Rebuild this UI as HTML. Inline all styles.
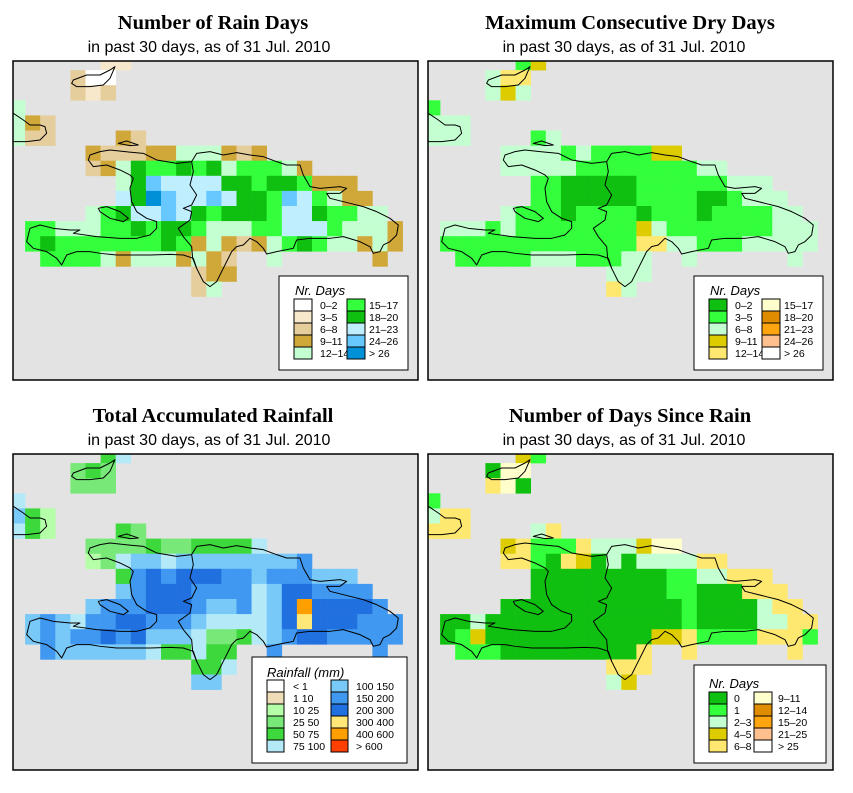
<!DOCTYPE html>
<html><head><meta charset="utf-8"><style>
html,body{margin:0;padding:0;background:#fff}
svg{display:block}
.t{font-family:"Liberation Serif",serif;font-weight:bold;font-size:20.5px;text-anchor:middle}
.s{font-family:"Liberation Sans",sans-serif;font-size:16px;text-anchor:middle}
.lt{font-family:"Liberation Sans",sans-serif;font-style:italic;font-size:13px}
.ll{font-family:"Liberation Sans",sans-serif;font-size:10.5px}
</style></head><body>
<svg id="svg" width="853" height="793" viewBox="0 0 853 793" xmlns="http://www.w3.org/2000/svg">
<defs>
<clipPath id="c1"><rect x="13" y="61" width="405" height="319"/></clipPath>
<clipPath id="c2"><rect x="428" y="61" width="405" height="319"/></clipPath>
<clipPath id="c3"><rect x="13" y="454" width="405" height="316"/></clipPath>
<clipPath id="c4"><rect x="428" y="454" width="405" height="316"/></clipPath>
</defs>
<text class="t" x="213" y="29">Number of Rain Days</text>
<text class="s" x="209" y="52">in past 30 days, as of  31 Jul. 2010</text>
<text class="t" x="630" y="29">Maximum Consecutive Dry Days</text>
<text class="s" x="624" y="52">in past 30 days, as of  31 Jul. 2010</text>
<text class="t" x="213" y="422">Total Accumulated Rainfall</text>
<text class="s" x="209" y="445">in past 30 days, as of  31 Jul. 2010</text>
<text class="t" x="630" y="422">Number of Days Since Rain</text>
<text class="s" x="624" y="445">in past 30 days, as of  31 Jul. 2010</text>
</svg>
<script>
// ---- data ----
const codes1 = "abcdefghik";
const colors1 = ["#ffffff","#f7e8cc","#e6cd9c","#d0a83a","#c4ffd2","#33ff3c","#10c010","#bfeeff","#66c8ff","#0090d8"];
const labels1 = ["0\u20132","3\u20135","6\u20138","9\u201311","12\u201314","15\u201317","18\u201320","21\u201323","24\u201326","> 26"];
const grid1 = [[6,"bb"],[4,"caa"],[4,"cbc"],[0,"e"],[0,"edc"],[0,"ecc....dc"],[5,"dcccddeeedcd"],[5,"cdegffgfgefffed"],[7,"egihhhhggfggfddd"],[7,"hgkihhihggfihfedd"],[5,"efghhihgfgggfhhgffee"],[1,"ffeeeffgfggfeeeffhhhfeeed"],[1,"fgfffffffgfdedcdefgfeeded"],[2,"ffffedeeededc..e......d"],[12,"cdd"],[12,"ce"]];

const codes2 = "ABCDEFGHIJ";
const colors2 = ["#10c010","#33ff3c","#c4ffd2","#dccc00","#ffe870","#ffffcc","#e08c00","#ffa510","#ffc090","#ffffff"];
const labels2 = ["0\u20132","3\u20135","6\u20138","9\u201311","12\u201314","15\u201317","18\u201320","21\u201323","24\u201326","> 26"];
const grid2 = [[6,"BD"],[4,"CEE"],[4,"CDC"],[0,"B"],[0,"CCC"],[0,"CCC....BC"],[5,"CCCCBCBBBBDD"],[5,"CCCCCBBBBBBBBCC"],[7,"BBAAAAABBBBBBCCC"],[7,"BBAAAAABBBBAABCCC"],[5,"CBBBABBBBABBBABBBBCC"],[1,"CCCBCBBBBBBBBDCBBBBBBBCCC"],[1,"BBBBBBBBBBBBBEECCBBBCCCCC"],[2,"BBBBBCCCBBBCC..C......C"],[12,"CCC"],[12,"EC"]];

const codes3 = "abcdefghijkl";
const colors3 = ["#ffffff","#efdcb8","#b4ffa8","#78e878","#3cd83c","#b4eaf8","#78c8f8","#4098f0","#2070e0","#ffe878","#ffa000","#ff4000"];
const labels3 = ["< 1","1   10","10   25","25   50","50   75","75  100","100  150","150  200","200  300","300  400","400  600","> 600"];
const grid3 = [[6,"ef"],[4,"ded"],[4,"ddd"],[0,"f"],[0,"gec"],[0,"fec....ed"],[5,"ddddeddeeeef"],[5,"cdfggfggggggggh"],[7,"ehihiiihhghhhggg"],[7,"ghiiihhhhfgiihhhh"],[5,"ghhhiiihgghfgikiiiih"],[1,"ghgfhhiihhhgffffgijiiihhh"],[1,"ghghhihigggfddefghiihhhhh"],[2,"hggggggfeefee..h......h"],[12,"eef"],[12,"gg"]];

const codes4 = "ABCDEFGHIJ";
const colors4 = ["#10c010","#33ff3c","#c4ffd2","#dccc00","#ffe870","#ffffcc","#e08c00","#ffa510","#ffc090","#ffffff"];
const labels4 = ["0","1","2\u20133","4\u20135","6\u20138","9\u201311","12\u201314","15\u201320","21\u201325","> 25"];
const grid4 = [[6,"DB"],[4,"AFF"],[4,"EFA"],[0,"B"],[0,"CEE"],[0,"EEE....CE"],[5,"DEBBBECCCDFF"],[5,"EEBAEDACACCCCEE"],[7,"AAAAAAAAABBCCEEE"],[7,"AAAAAAAAABBAAAEEE"],[5,"AAAAAAAAAAAABAAAACEE"],[1,"AACAAAAAAAAAAAAABAAAACCEE"],[1,"ABDAAAAAAAAAAADDEBBBBEEEB"],[2,"BBBAAAAAAAAAE..E......E"],[12,"EEE"],[12,"CD"]];

const NS = "http://www.w3.org/2000/svg";
const svg = document.getElementById("svg");
const CELL = 15.1;
function colX(ox, j){ return ox + CELL*j; }
function rowY(oy, i){ return oy + CELL*i; }
function mk(tag, attrs, parent){
  const e = document.createElementNS(NS, tag);
  for (const k in attrs) e.setAttribute(k, attrs[k]);
  (parent||svg).appendChild(e); return e;
}
const coast = "M240,300 L270,290 L300,285 L345,290 L400,295 L440,315 L470,320 L500,325 L545,320 L560,295 L600,290 L640,300 L680,293 L720,300 L760,305 L800,320 L830,330 L870,330 L880,360 L900,395 L930,400 L990,395 L1010,400 L990,415 L950,415 L960,430 L1020,445 L1060,455 L1100,470 L1140,490 L1165,510 L1160,540 L1140,560 L1120,570 L1110,590 L1090,595 L1080,575 L1050,560 L1000,545 L960,550 L900,550 L860,555 L850,580 L800,590 L770,597 L760,580 L740,560 L720,550 L700,570 L680,575 L665,590 L660,600 L640,640 L620,680 L600,695 L580,680 L560,640 L550,610 L520,600 L480,598 L420,600 L360,600 L320,600 L270,595 L240,590 L200,590 L170,600 L155,630 L140,610 L110,590 L70,580 L50,560 L60,520 L90,510 L130,520 L180,525 L210,525 L190,535 L260,545 L330,550 L380,550 L420,540 L440,520 L440,500 L410,490 L380,470 L365,440 L360,400 L370,370 L360,360 L330,345 L290,330 L250,335 L235,315 Z "+
 "M265,460 L290,455 L330,470 L355,490 L340,500 L300,490 L270,470 Z "+
 "M325,265 L350,258 L385,270 L360,272 Z "+
 "M10,175 L40,195 L60,210 L90,210 L105,215 L110,235 L90,255 L50,260 L10,260 "+
 "M190,75 L230,60 L270,60 L300,45 L315,35 L300,70 L280,90 L240,95 L200,95 L185,85 Z";
const border = "M545,320 L550,350 L540,390 L560,420 L545,450 L520,460 L545,470 L540,495 L505,520 L520,545 L545,575 L548,610 L560,640";

function panel(n, ox, oy, fx, fy, fw, fh, grid, codes, colors, labels, leg){
  mk("rect",{x:fx,y:fy,width:fw,height:fh,fill:"#e3e3e3"});
  const g = mk("g",{"clip-path":"url(#c"+n+")"});
  
  
  grid.forEach((row, i) => {
    const start = row[0], s = row[1];
    for (let k=0; k<s.length; k++){
      const ci = codes.indexOf(s[k]); if (ci<0) continue;
      const j = start + k;
      const r = mk("rect",{x:colX(ox,j).toFixed(2),y:rowY(oy,i).toFixed(2),width:CELL+0.3,height:CELL+0.3,fill:colors[ci]}, g);
      
      
    }
  });
  const cg = mk("g",{transform:"translate("+ox+","+oy+") scale(0.3333)",fill:"none",stroke:"#000","stroke-width":3,"stroke-linejoin":"round"}, g);
  const cp = mk("path",{d:coast},cg);
  
  
  const bp = mk("path",{d:border},cg);
  
  
  const fr = mk("rect",{x:fx,y:fy,width:fw,height:fh,fill:"none",stroke:"#000","stroke-width":1.5});
  
  
  const lg = mk("g",{});
  
  
  mk("rect",{x:leg.x,y:leg.y,width:leg.w,height:leg.h,fill:"#fff",stroke:"#000","stroke-width":1},lg);
  const lt = mk("text",{x:leg.tx,y:leg.ty,"class":"lt"},lg);
  lt.textContent = leg.title;
  
  
  const half = Math.ceil(labels.length/2);
  labels.forEach((lab, idx) => {
    const col = idx < half ? 0 : 1, r = idx % half;
    const sx = col ? leg.sx2 : leg.sx1, sy = leg.sy + r*12;
    const sw = mk("rect",{x:sx,y:sy,width:leg.sw,height:12,fill:colors[idx],stroke:"#000","stroke-width":1},lg);
    
    
    const t = mk("text",{x:col?leg.lx2:leg.lx1,y:sy+10,"class":"ll"},lg);
    t.textContent = lab;
    
    
  });
}
panel(1,10,55,13,61,405,319,grid1,codes1,colors1,labels1,{x:279,y:276,w:129,h:94,title:"Nr. Days",tx:295,ty:295,sx1:294,sx2:347,sw:18,sy:299,lx1:320,lx2:369});
panel(2,425,55,428,61,405,319,grid2,codes2,colors2,labels2,{x:694,y:276,w:129,h:94,title:"Nr. Days",tx:710,ty:295,sx1:709,sx2:762,sw:18,sy:299,lx1:735,lx2:784});
panel(3,10,448,13,454,405,316,grid3,codes3,colors3,labels3,{x:252,y:657,w:155,h:106,title:"Rainfall (mm)",tx:267,ty:677,sx1:267,sx2:331,sw:17,sy:680,lx1:293,lx2:356});
panel(4,425,448,428,454,405,316,grid4,codes4,colors4,labels4,{x:694,y:665,w:132,h:98,title:"Nr. Days",tx:709,ty:688,sx1:709,sx2:754,sw:18,sy:692,lx1:734,lx2:778});
</script>
</body></html>
